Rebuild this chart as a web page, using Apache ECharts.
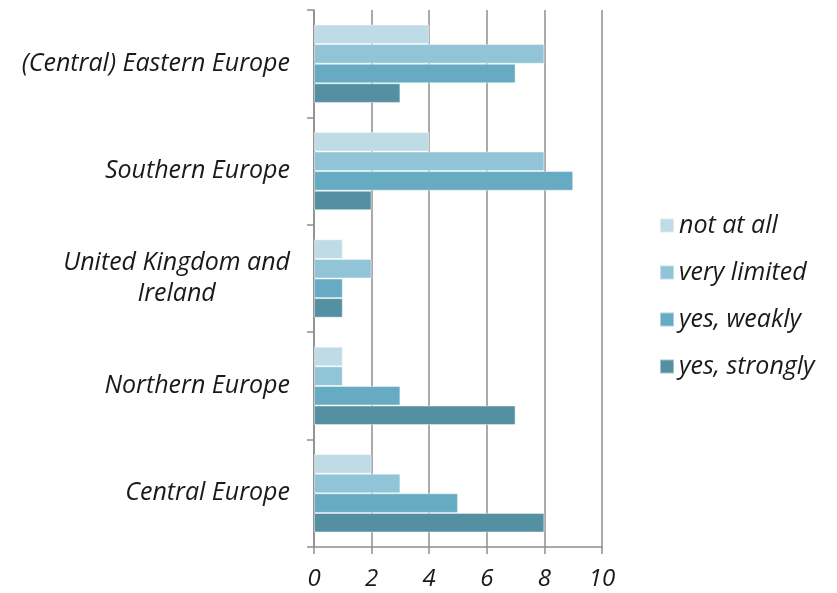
<!DOCTYPE html>
<html>
<head>
<meta charset="utf-8">
<script src="https://cdn.jsdelivr.net/npm/echarts@6/dist/echarts.min.js"></script>
<style>
  html, body { margin: 0; padding: 0; background: #fff; }
  #chart { width: 837px; height: 593px; }
</style>
</head>
<body>
<div id="chart"></div>
<script>
const regions = ['(Central) Eastern Europe', 'Southern Europe', 'United Kingdom and Ireland', 'Northern Europe', 'Central Europe']
const seriesNames = ['not at all', 'very limited', 'yes, weakly', 'yes, strongly']
const notAtAll = [4, 4, 1, 1, 2]
const veryLimited = [8, 8, 2, 1, 3]
const yesWeakly = [7, 9, 1, 3, 5]
const yesStrongly = [3, 2, 1, 7, 8]
const xTicks = [0, 2, 4, 6, 8, 10]

const colors = ['#bedbe6', '#92c4d8', '#67abc3', '#5590a2']
const values = [notAtAll, veryLimited, yesWeakly, yesStrongly]
const font = '"Open Sans", "Noto Sans", sans-serif'
const gridColor = '#8e8e8e'
const labelStyle = { fontFamily: font, fontStyle: 'italic', fontWeight: 400, fontSize: 25, color: '#1a1a1a' }

const chart = echarts.init(document.getElementById('chart'))

chart.setOption({
  animation: false,
  color: colors,
  textStyle: { fontFamily: font },
  grid: { left: 314, right: 235, top: 10, bottom: 46 },
  legend: {
    orient: 'vertical',
    left: 654,
    top: 207,
    itemWidth: 14,
    itemHeight: 14,
    itemGap: 20,
    icon: 'rect',
    data: seriesNames,
    textStyle: Object.assign({ lineHeight: 27 }, labelStyle)
  },
  xAxis: {
    type: 'value',
    min: xTicks[0],
    max: xTicks[xTicks.length - 1],
    interval: 2,
    axisLine: { show: true, lineStyle: { color: gridColor, width: 1.5 } },
    axisTick: { show: true, length: 7, lineStyle: { color: gridColor, width: 1.5 } },
    splitLine: { show: true, lineStyle: { color: gridColor, width: 1.5 } },
    axisLabel: Object.assign({ margin: 20 }, labelStyle, { fontSize: 24 })
  },
  yAxis: {
    type: 'category',
    inverse: true,
    data: regions,
    axisLine: { show: true, lineStyle: { color: gridColor, width: 1.5 } },
    axisTick: { show: true, length: 7, lineStyle: { color: gridColor, width: 1.5 } },
    axisLabel: Object.assign({
      margin: 24,
      lineHeight: 31,
      formatter: function (v) {
        if (v === 'United Kingdom and Ireland') {
          return '{c|United Kingdom and}\n{c|Ireland}'
        }
        return v
      },
      rich: {
        c: Object.assign({ align: 'center', lineHeight: 31 }, labelStyle)
      }
    }, labelStyle)
  },
  series: seriesNames.map((name, i) => ({
    name: name,
    type: 'bar',
    data: values[i],
    barGap: '0%',
    barCategoryGap: '27%',
    itemStyle: { borderColor: 'rgba(255,255,255,0.45)', borderWidth: 1 }
  }))
})
</script>
</body>
</html>
